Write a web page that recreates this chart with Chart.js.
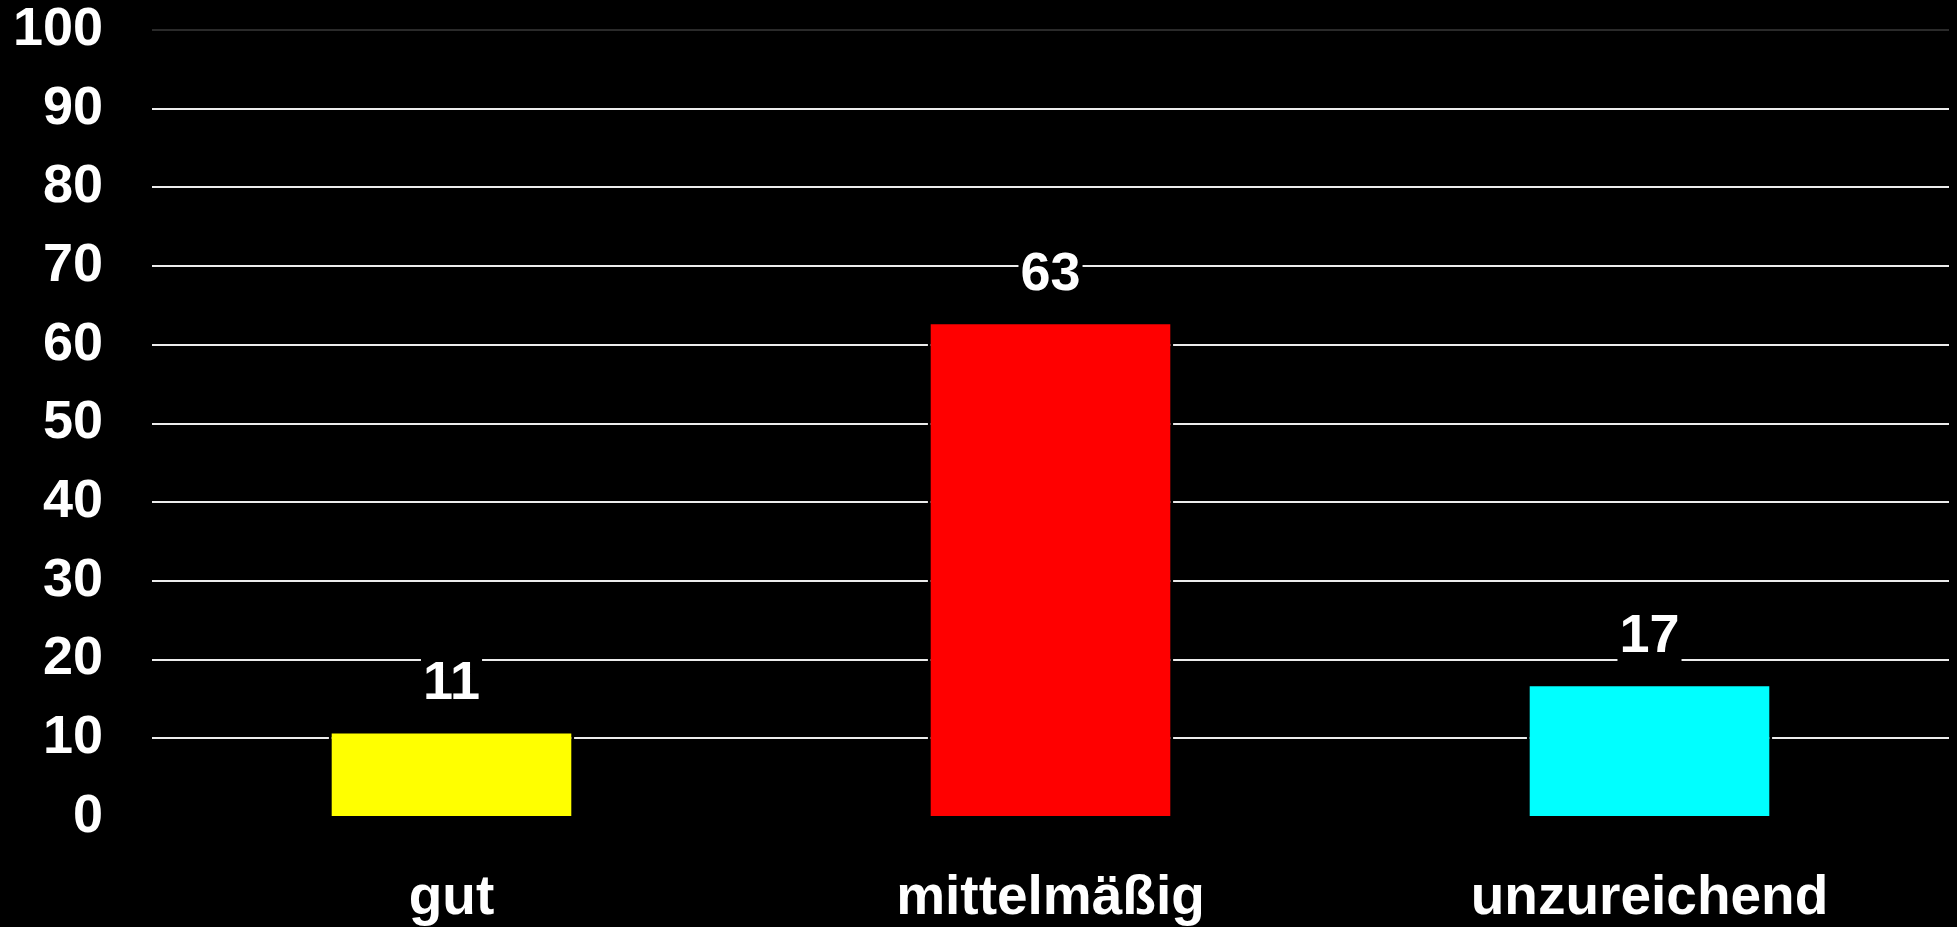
<!DOCTYPE html>
<html>
<head>
<meta charset="utf-8">
<script src="https://cdn.jsdelivr.net/npm/chart.js@4.4.1/dist/chart.umd.min.js"></script>
<style>
  html, body { margin: 0; padding: 0; background: #000; overflow: hidden; }
  #wrap { width: 1957px; height: 927px; position: relative; }
</style>
</head>
<body>
<div id="wrap"><canvas id="myChart"></canvas></div>
<script>
// data
const categories = ['gut', 'mittelmäßig', 'unzureichend'];
const values = [11, 63, 17];
const barColors = ['#ffff00', '#ff0000', '#00ffff'];
const yTicks = [0, 10, 20, 30, 40, 50, 60, 70, 80, 90, 100];

const FONT = '"Liberation Sans", Arial, sans-serif';
const ctx = document.getElementById('myChart').getContext('2d');

// value labels above the bars, with a black box so the grid line is cut
const valueLabels = {
    id: 'valueLabels',
    afterDatasetsDraw(chart) {
        const c = chart.ctx;
        const meta = chart.getDatasetMeta(0);
        c.save();
        c.font = 'bold 54px ' + FONT;
        c.textAlign = 'center';
        c.textBaseline = 'alphabetic';
        meta.data.forEach(function (bar, i) {
            var txt = String(chart.data.datasets[0].data[i]);
            var w = c.measureText(txt).width;
            var base = bar.y - 31;
            c.fillStyle = '#000';
            c.fillRect(bar.x - w / 2 - 2, base - 48, w + 4, 62);
            c.fillStyle = '#fff';
            c.fillText(txt, bar.x, base);
        });
        c.restore();
    }
};

const myChart = new Chart(ctx, {
    type: 'bar',
    data: {
        labels: categories,
        datasets: [{
            data: values,
            backgroundColor: barColors,
            borderColor: '#000',
            borderWidth: 3,
            categoryPercentage: 1.0,
            barPercentage: 0.41
        }]
    },
    options: {
        animation: false,
        responsive: true,
        maintainAspectRatio: false,
        layout: { padding: { top: 30, right: 8, left: 0, bottom: 0 } },
        plugins: {
            legend: { display: false },
            tooltip: { enabled: false }
        },
        scales: {
            x: {
                grid: { display: false, drawTicks: false },
                border: { display: false },
                ticks: {
                    color: '#fff',
                    padding: 49,
                    font: { family: FONT, size: 55, weight: 'bold' }
                },
                afterFit: function (scale) {
                    scale.height = 110;
                    scale.paddingLeft = 0;
                    scale.paddingRight = 0;
                }
            },
            y: {
                min: 0,
                max: 100,
                afterBuildTicks: function (scale) {
                    scale.ticks = yTicks.map(v => ({ value: v }));
                },
                grid: {
                    drawTicks: false,
                    lineWidth: 2,
                    color: function (c) {
                        if (c.tick.value === 100) return '#2a2a2a';
                        if (c.tick.value === 0) return 'rgba(0,0,0,0)';
                        return '#ececec';
                    }
                },
                border: { display: false },
                ticks: {
                    color: '#fff',
                    padding: 49,
                    font: { family: FONT, size: 54, weight: 'bold', lineHeight: 1.0 }
                },
                afterFit: function (scale) {
                    scale.width = 152;
                    scale.paddingTop = 0;
                    scale.paddingBottom = 0;
                }
            }
        }
    },
    plugins: [valueLabels]
});
</script>
</body>
</html>
